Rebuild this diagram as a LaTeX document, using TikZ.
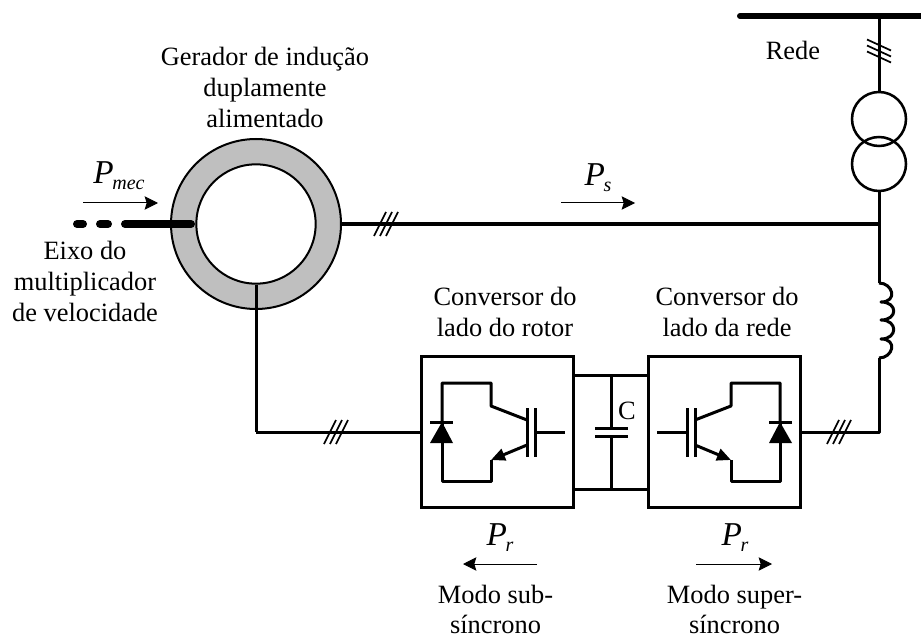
\documentclass[tikz,border=0pt]{standalone}
\usepackage{fontspec}
\setmainfont{Liberation Serif}
\usetikzlibrary{arrows.meta}
\newcommand{\pwr}[1]{{\fontsize{25}{25}\selectfont\itshape P\kern-1pt\raisebox{-4.5pt}{\fontsize{15}{15}\selectfont #1}}}
\newcommand{\conv}[1]{%
  \begin{scope}[#1]
    \coordinate (tl) at (442,383);
    \coordinate (tr) at (491,383);
    \coordinate (bl) at (442,481);
    \coordinate (br) at (491,481);
    \coordinate (cc) at (491,406);
    \coordinate (cb) at (527,420);
    \coordinate (eb) at (527,445);
    \coordinate (ee) at (491,460);
    \coordinate (dk) at (442,422);
    \draw[wire,line join=round] (dk) -- (tl) -- (tr) -- (cc) -- (cb);
    \draw[wire,line join=round] (dk) -- (bl) -- (br) -- (ee);
    \draw[wire,-{Triangle[length=10.5pt,width=9pt]}] (eb) -- (ee);
    \fill (430,443) -- (453,443) -- (dk) -- cycle;
    \draw[wire] (430,422) -- (453,422);
    \draw[wire] (527,408) -- (527,457);
    \draw[wire] (535,408) -- (535,457);
    \draw[wire] (535,432) -- (565,432);
  \end{scope}}
\begin{document}
\begin{tikzpicture}[x=0.75pt,y=-0.75pt,
  wire/.style={line width=2.25pt},
  slash/.style={line width=1.3pt},
  flow/.style={line width=0.75pt,-{Stealth[length=10pt,width=10pt,inset=1.5pt]}},
  lbl/.style={font=\fontsize{19.8}{23.25}\selectfont,align=center,inner sep=0pt},
  lowlbl/.style={font=\fontsize{19.8}{22.5}\selectfont,align=center,inner sep=0pt},
  convbox/.style={draw,line width=2.25pt,minimum width=113.5pt,minimum height=113pt,inner sep=0pt,fill=white},
  xfmr/.style={circle,draw,line width=1.9pt,minimum size=40.5pt,inner sep=0pt}]
\useasboundingbox (0,0) rectangle (921,638);
% generator
\node[circle,draw,line width=1.5pt,fill=black!25,minimum size=127.5pt,inner sep=0pt] (gen) at (256,224) {};
\node[circle,draw,line width=1.5pt,fill=white,minimum size=89.5pt,inner sep=0pt] (rot) at (256,224) {};
% shaft
\coordinate (s0) at (125,224);
\coordinate (s1) at (191,224);
\coordinate (d1a) at (77,224);
\coordinate (d1b) at (83,224);
\coordinate (d2a) at (100,224);
\coordinate (d2b) at (108,224);
\draw[line width=6pt,line cap=round] (s0) -- (s1);
\draw[line width=6pt,line cap=round] (d1a) -- (d1b);
\draw[line width=6pt,line cap=round] (d2a) -- (d2b);
% network
\coordinate (busL) at (740,16);
\coordinate (busR) at (921,16);
\coordinate (busT) at (879,16);
\coordinate (jn) at (879,224);
\coordinate (L1) at (879,283);
\coordinate (L2) at (879,358);
\coordinate (corner) at (879,432);
\coordinate (rc) at (256,432);
\draw[line width=4.5pt,line cap=round] (busL) -- (busR);
\node[xfmr] (t1) at (879,119) {};
\node[xfmr] (t2) at (879,164) {};
\draw[wire] (busT) -- (t1.north);
\draw[wire] (t2.south) -- (L1);
\draw[wire] (gen.east) -- (jn);
\draw[wire,line join=round] (L1) .. controls (893,283) and (898,302) .. (881,302)
  .. controls (898,302) and (898,320) .. (881,320)
  .. controls (898,320) and (898,339) .. (881,339)
  .. controls (898,339) and (893,358) .. (L2);
\draw[wire,line join=round] (rot.south) -- (rc);
% converters
\node[convbox] (cvL) at (497.5,432) {};
\node[convbox] (cvR) at (724.5,432) {};
\draw[wire,line join=round] (rc) -- (cvL.west);
\draw[wire,line join=round] (L2) -- (corner) -- (cvR.east);
\conv{}
\conv{shift={(1222,0)},xscale=-1}
% dc link
\coordinate (ct) at (611,375);
\coordinate (cb1) at (611,489);
\coordinate (p1) at (611,428);
\coordinate (p2) at (611,436);
\draw[wire] (cvL.east |- ct) -- (cvR.west |- ct);
\draw[wire] (cvL.east |- cb1) -- (cvR.west |- cb1);
\draw[wire] (ct) -- (p1);
\draw[wire] (p2) -- (cb1);
\draw[wire] (595,428) -- (628,428);
\draw[wire] (595,436) -- (628,436);
\node[lbl] (clab) at (627,411) {C};
% three-phase marks
\foreach \cx/\cy in {380/224,386/224,392/224,330/432,336/432,342/432,833/432,839/432,845/432}
  \draw[slash] (\cx-6,\cy+12) -- (\cx+6,\cy-12);
\foreach \cy in {45,51,57}
  \draw[slash] (867,\cy-5.5) -- (891,\cy+5.5);
% power arrows
\coordinate (am1) at (83,203);
\coordinate (am2) at (158,203);
\coordinate (as1) at (561,203);
\coordinate (as2) at (635,203);
\coordinate (arL1) at (537,564);
\coordinate (arL2) at (463,564);
\coordinate (arR1) at (696,564);
\coordinate (arR2) at (772,564);
\draw[flow] (am1) -- (am2);
\draw[flow] (as1) -- (as2);
\draw[flow] (arL1) -- (arL2);
\draw[flow] (arR1) -- (arR2);
\node[lbl] (pm) at (119,176) {\pwr{mec}};
\node[lbl] (ps) at (598,178) {\pwr{s}};
\node[lbl] (pl) at (500,538) {\pwr{r}};
\node[lbl] (pr) at (735,538) {\pwr{r}};
% labels
\node[lbl] (tg) at (265,87) {Gerador de indução\\duplamente\\alimentado};
\node[lbl] (te) at (85,281) {Eixo do\\multiplicador\\de velocidade};
\node[lbl] (tr) at (793,50) {Rede};
\node[lbl] (tc1) at (505,312) {Conversor do\\lado do rotor};
\node[lbl] (tc2) at (727,312) {Conversor do\\lado da rede};
\node[lowlbl] (tm1) at (495.5,609) {Modo sub-\\síncrono};
\node[lowlbl] (tm2) at (734.5,609) {Modo super-\\síncrono};
\end{tikzpicture}
\end{document}
